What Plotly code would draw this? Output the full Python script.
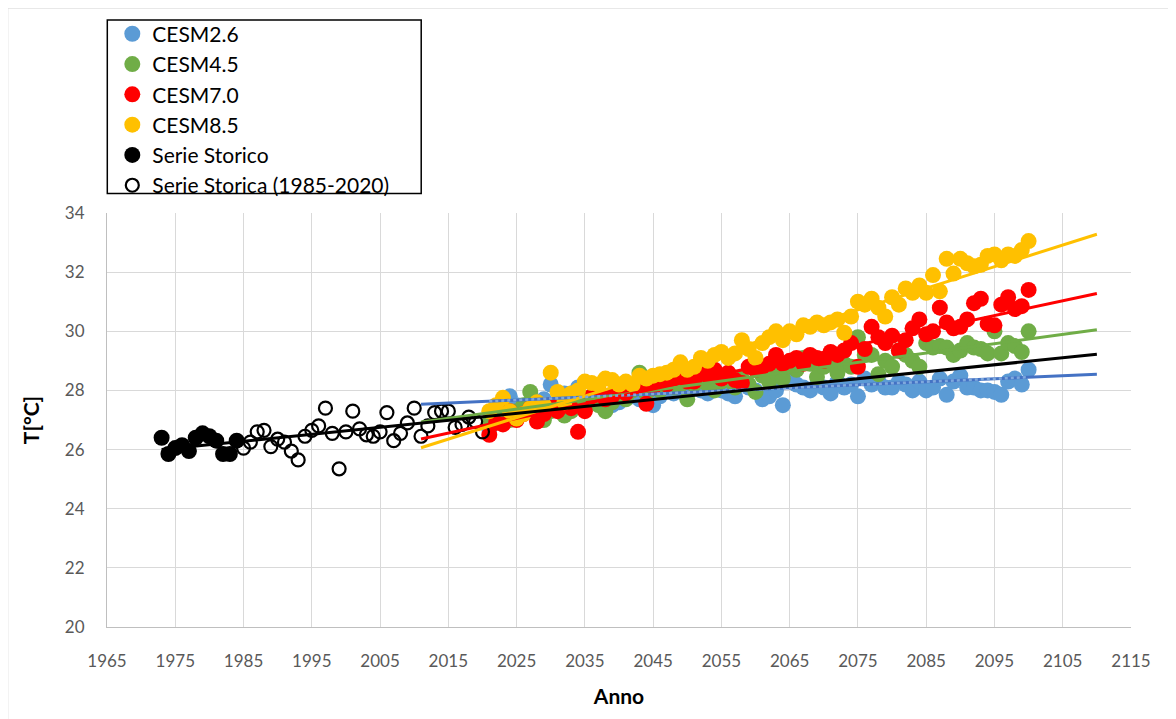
import plotly.graph_objects as go
import numpy as np

# ---------------- data ----------------
hist_years = list(range(1973, 1985))
hist_temp = [26.4, 25.85, 26.05, 26.15, 25.95, 26.4, 26.55, 26.45, 26.3, 25.85, 25.85, 26.3]

hist2_years = list(range(1985, 2021))
hist2_temp = [26.05, 26.25, 26.6, 26.65, 26.1, 26.35, 26.25, 25.95, 25.65, 26.45,
              26.65, 26.8, 27.4, 26.55, 25.35, 26.6, 27.3, 26.7, 26.5, 26.45,
              26.6, 27.25, 26.3, 26.55, 26.9, 27.4, 26.45, 26.8, 27.25, 27.3,
              27.3, 26.75, 26.85, 27.1, 26.95, 26.6]

cesm_years = list(range(2021, 2101))
cesm26 = [26.7, 27.3, 27.6, 27.8, 27.5, 27.3, 27.6, 27.4, 27.7, 28.2,
          27.6, 27.9, 27.9, 28.1, 27.7, 27.6, 27.9, 27.7, 27.5, 27.6,
          27.9, 27.8, 27.7, 27.9, 27.5, 27.8, 28.0, 27.9, 28.1, 27.9,
          28.1, 28.0, 27.9, 28.2, 28.0, 27.9, 27.8, 28.3, 28.1, 28.0,
          27.7, 27.8, 28.0, 27.5, 28.3, 28.2, 28.1, 28.0, 28.2, 28.1,
          27.9, 28.3, 28.1, 28.2, 27.8, 28.4, 28.2, 28.3, 28.1, 28.1,
          28.3, 28.2, 28.0, 28.3, 28.0, 28.1, 28.4, 27.85, 28.3, 28.5,
          28.1, 28.1, 28.0, 28.0, 27.95, 27.85, 28.3, 28.4, 28.2, 28.7]
cesm45 = [26.9, 27.2, 27.4, 27.0, 27.3, 27.5, 27.95, 27.0, 27.0, 27.3,
          27.5, 27.15, 27.3, 27.6, 27.4, 27.8, 27.5, 27.3, 27.6, 27.8,
          27.7, 28.0, 28.6, 27.9, 28.1, 28.0, 28.3, 28.1, 28.2, 27.7,
          28.2, 28.5, 28.2, 28.0, 28.3, 28.4, 28.1, 28.4, 28.2, 27.95,
          28.5, 28.3, 28.6, 28.4, 28.8, 28.7, 29.1, 28.9, 28.45, 28.8,
          29.0, 28.6, 28.9, 28.8, 29.8, 29.2, 29.2, 28.55, 29.0, 28.8,
          29.35, 29.2, 29.0, 28.8, 29.6, 29.45, 29.5, 29.45, 29.2, 29.35,
          29.6, 29.45, 29.4, 29.25, 30.0, 29.25, 29.6, 29.5, 29.3, 30.0]
cesm70 = [26.5, 26.9, 26.85, 27.3, 27.0, 27.2, 27.4, 26.95, 27.2, 27.5,
          27.3, 27.6, 27.4, 26.6, 27.3, 27.8, 28.0, 27.7, 27.8, 28.0,
          27.9, 28.1, 28.2, 27.55, 28.1, 28.3, 28.2, 28.4, 28.5, 28.3,
          28.3, 28.6, 28.5, 28.7, 28.4, 28.6, 28.35, 28.25, 28.8, 28.7,
          28.8, 28.9, 29.2, 28.9, 29.0, 29.1, 28.9, 29.2, 29.1, 29.0,
          29.3, 29.2, 29.35, 29.6, 28.8, 29.4, 30.15, 29.8, 29.6, 29.85,
          29.35, 29.7, 30.1, 30.4, 29.9, 30.0, 30.8, 30.3, 30.1, 30.15,
          30.4, 30.95, 31.1, 30.25, 30.2, 30.9, 31.15, 30.75, 30.85, 31.4]
cesm85 = [27.3, 27.5, 27.75, 27.3, 27.05, 27.2, 27.4, 27.6, 27.5, 28.6,
          27.95, 27.6, 27.9, 28.0, 28.3, 28.25, 28.2, 28.4, 28.35, 28.2,
          28.3, 28.2, 28.5, 28.4, 28.5, 28.55, 28.6, 28.7, 28.95, 28.7,
          28.8, 29.1, 29.0, 29.2, 29.3, 29.1, 29.25, 29.7, 29.4, 29.1,
          29.6, 29.8, 30.0, 29.7, 30.0, 29.9, 30.2, 30.15, 30.3, 30.2,
          30.3, 30.4, 29.95, 30.5, 31.0, 30.9, 31.1, 30.8, 30.5, 31.15,
          30.9, 31.45, 31.3, 31.55, 31.3, 31.9, 31.35, 32.45, 31.95, 32.45,
          32.3, 32.2, 32.25, 32.55, 32.6, 32.4, 32.6, 32.55, 32.75, 33.05]

# linear trend lines (start/end)
trend_cesm_years = [2011, 2110]
trend26 = [27.53, 28.55]
trend45 = [26.93, 30.05]
trend70 = [26.36, 31.28]
trend85 = [26.06, 33.28]
trend_hist_years = [1973, 2110]
trend_hist = [26.0, 29.22]
dotted26_years = [2021, 2100]

series_names = ["CESM2.6", "CESM4.5", "CESM7.0", "CESM8.5", "Serie Storico", "Serie Storica (1985-2020)"]
x_ticks = list(range(1965, 2116, 10))
y_ticks = list(range(20, 35, 2))

# ---------------- layout helpers (page pixel coords -> paper) ----------------
OFF = 8                      # default body margin of the html page
W, H = 1168, 711
L, R, T, B = 106.7 - OFF, 1131 - OFF, 212.5 - OFF, 626.7 - OFF
def px(x):
    return (x - OFF - L) / (R - L)
def py(y):
    return (B - (y - OFF)) / (B - T)

FONT = "Lato"
colors_pt = ["#5B9BD5", "#70AD47", "#FF0000", "#FFC000"]
colors_ln = ["#4472C4", "#70AD47", "#FF0000", "#FFC000"]

fig = go.Figure()
for name, vals, c in zip(series_names[:4], [cesm26, cesm45, cesm70, cesm85], colors_pt):
    fig.add_trace(go.Scatter(x=cesm_years, y=vals, mode="markers", name=name,
                             marker=dict(size=16, color=c, line=dict(width=0))))
fig.add_trace(go.Scatter(x=hist_years, y=hist_temp, mode="markers", name=series_names[4],
                         marker=dict(size=16, color="black", line=dict(width=0))))
fig.add_trace(go.Scatter(x=hist2_years, y=hist2_temp, mode="markers", name=series_names[5],
                         marker=dict(size=13, symbol="circle-open", color="black",
                                     line=dict(width=2.2, color="black"))))

for vals, c in zip([trend26, trend45, trend70, trend85], colors_ln):
    fig.add_trace(go.Scatter(x=trend_cesm_years, y=vals, mode="lines", showlegend=False,
                             line=dict(color=c, width=3), hoverinfo="skip"))
fig.add_trace(go.Scatter(x=dotted26_years,
                         y=list(np.interp(dotted26_years, trend_cesm_years, trend26)),
                         mode="lines", showlegend=False,
                         line=dict(color="#7FA9DD", width=2.5, dash="dot"), hoverinfo="skip"))
fig.add_trace(go.Scatter(x=trend_hist_years, y=trend_hist, mode="lines", showlegend=False,
                         line=dict(color="black", width=3), hoverinfo="skip"))

fig.update_layout(
    width=W, height=H,
    margin=dict(l=L, r=W - R, t=T, b=H - B, autoexpand=False),
    paper_bgcolor="white", plot_bgcolor="white",
    font=dict(family=FONT, color="#595959"),
    showlegend=True,
    legend=dict(x=px(112), y=py(13), xanchor="left", yanchor="top",
                bgcolor="rgba(0,0,0,0)", borderwidth=0,
                font=dict(family=FONT, size=21, color="black"),
                itemclick=False),
    shapes=[
        dict(type="line", xref="paper", yref="paper", x0=px(7.5), x1=px(1176), y0=py(7.5), y1=py(7.5),
             line=dict(color="#D9D9D9", width=1)),
        dict(type="line", xref="paper", yref="paper", x0=px(7.5), x1=px(7.5), y0=py(7.5), y1=py(719),
             line=dict(color="#D9D9D9", width=1)),
        dict(type="rect", xref="paper", yref="paper", x0=px(107), x1=px(421), y0=py(19.5), y1=py(193),
             line=dict(color="black", width=1.5), fillcolor="white", layer="below"),
    ],
    xaxis=dict(range=[1965, 2115], tickvals=x_ticks, ticktext=[str(v) for v in x_ticks],
               showgrid=True, gridcolor="#D9D9D9", gridwidth=1.3,
               showline=True, linecolor="#BFBFBF", linewidth=1, zeroline=False,
               tickfont=dict(size=17, color="#595959"), ticklabelstandoff=19,
               title=dict(text="<b>Anno</b>", font=dict(size=21, color="black"), standoff=18)),
    yaxis=dict(range=[20, 34], tickvals=y_ticks, ticktext=[str(v) for v in y_ticks],
               showgrid=True, gridcolor="#D9D9D9", gridwidth=1.3,
               showline=True, linecolor="#BFBFBF", linewidth=1, zeroline=False,
               tickfont=dict(size=17, color="#595959"), ticklabelstandoff=18,
               title=dict(text="<b>T[°C]</b>", font=dict(size=21, color="black"), standoff=19)),
)

fig.write_html("out.html")
